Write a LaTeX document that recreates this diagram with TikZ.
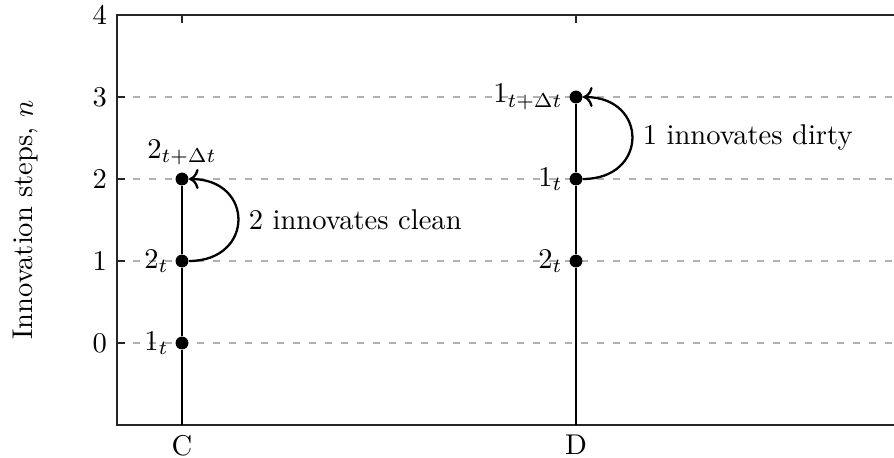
\documentclass[tikz,border=0pt]{standalone}
\usetikzlibrary{arrows.meta}
\begin{document}
\begin{tikzpicture}[x=0.35pt,y=0.35pt,
  dot/.style={circle,fill=black,inner sep=0pt,minimum size=4.5pt},
  gridline/.style={draw=black!30,dash pattern=on 2.4pt off 3.2pt,line width=0.4pt},
  frame/.style={draw=black!85,line width=0.4pt},
  timeline/.style={draw=black,line width=0.8pt},
  innov/.style={draw=black,line width=0.8pt,->},
  lab/.style={label distance=-1.3pt}]
\useasboundingbox (0,0) rectangle (894,457);
\clip (0,0) rectangle (894,457);
% grid
\foreach \y in {114,196,278,360} \draw[gridline] (117,\y) -- (900,\y);
% frame
\draw[frame] (900,442) -- (117,442) -- (117,32) -- (900,32);
% ticks
\foreach \y in {114,196,278,360} \draw[frame] (117,\y) -- (125,\y);
\foreach \x in {182,576} \draw[frame] (\x,442) -- (\x,434);
% tick labels
\node[left] (t0) at (117,114) {0};
\node[left] (t1) at (117,196) {1};
\node[left] (t2) at (117,278) {2};
\node[left] (t3) at (117,360) {3};
\node[left] (t4) at (117,442) {4};
\node[below] (xc) at (182,32) {C};
\node[below] (xd) at (576,32) {D};
\node[rotate=90] (ylab) at (26,237) {Innovation steps, $n$};
% C column
\coordinate (Cb) at (182,32);
\node[dot,label={[lab]left:$1_t$}] (c0) at (182,114) {};
\node[dot,label={[lab]left:$2_t$}] (c1) at (182,196) {};
\node[dot,label={[label distance=-1pt]above:$2_{t+\Delta t}$}] (c2) at (182,278) {};
\draw[timeline] (Cb) -- (c0) -- (c1) -- (c2);
\draw[innov] (c1) to[out=0,in=0,looseness=2.05] node[right] (lc) {2 innovates clean} (c2);
% D column
\coordinate (Db) at (576,32);
\node[dot,label={[lab]left:$2_t$}] (d1) at (576,196) {};
\node[dot,label={[lab]left:$1_t$}] (d2) at (576,278) {};
\node[dot,label={[lab]left:$1_{t+\Delta t}$}] (d3) at (576,360) {};
\draw[timeline] (Db) -- (d1) -- (d2) -- (d3);
\draw[innov] (d2) to[out=0,in=0,looseness=2.05] node[right] (ld) {1 innovates dirty} (d3);
\end{tikzpicture}
\end{document}
